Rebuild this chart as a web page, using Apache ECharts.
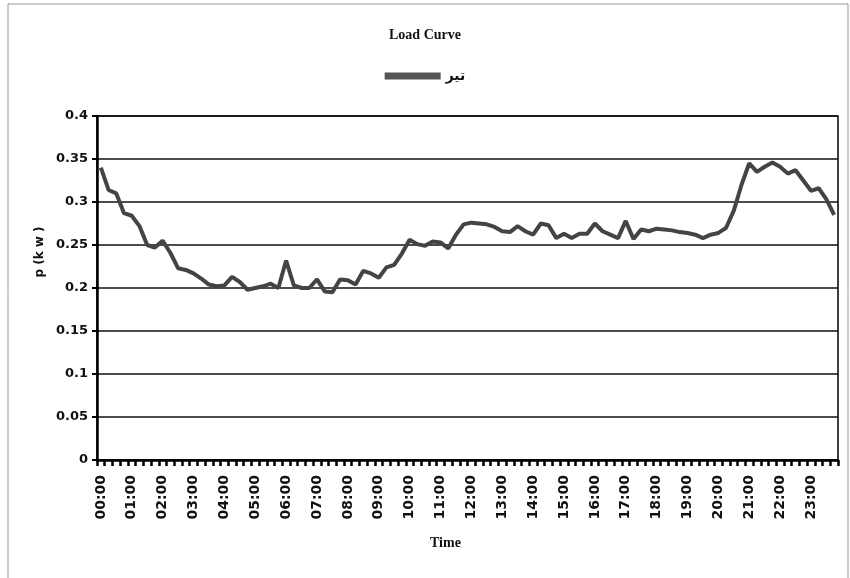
<!DOCTYPE html>
<html>
<head>
<meta charset="utf-8">
<script src="https://cdn.jsdelivr.net/npm/echarts@6/dist/echarts.min.js"></script>
<style>
html,body{margin:0;padding:0;background:#fff;}
#chart{width:850px;height:578px;}
</style>
</head>
<body>
<div id="chart"></div>
<script>
// 15-minute time categories
var categories = [];
for (var h = 0; h < 24; h++) {
  for (var m = 0; m < 60; m += 15) {
    categories.push((h < 10 ? '0' : '') + h + ':' + (m < 10 ? '0' : '') + m);
  }
}
var seriesName = 'تير';
var loadValues = [
  0.340, 0.314, 0.310, 0.287, 0.284, 0.272, 0.250, 0.247,
  0.255, 0.241, 0.223, 0.221, 0.217, 0.211, 0.204, 0.202,
  0.203, 0.213, 0.207, 0.198, 0.200, 0.202, 0.205, 0.200,
  0.232, 0.203, 0.200, 0.200, 0.210, 0.196, 0.195, 0.210,
  0.209, 0.204, 0.220, 0.217, 0.212, 0.224, 0.227, 0.240,
  0.256, 0.251, 0.249, 0.254, 0.253, 0.246, 0.262, 0.274,
  0.276, 0.275, 0.274, 0.271, 0.266, 0.265, 0.272, 0.266,
  0.262, 0.275, 0.273, 0.258, 0.263, 0.258, 0.263, 0.263,
  0.275, 0.266, 0.262, 0.258, 0.278, 0.257, 0.268, 0.266,
  0.269, 0.268, 0.267, 0.265, 0.264, 0.262, 0.258, 0.262,
  0.264, 0.270, 0.290, 0.320, 0.345, 0.335, 0.341, 0.346,
  0.341, 0.333, 0.337, 0.325, 0.313, 0.316, 0.303, 0.285
];
var yMin = 0, yMax = 0.4, yStep = 0.05;

var chart = echarts.init(document.getElementById('chart'), null, {renderer: 'canvas'});
var option = {
  backgroundColor: '#fff',
  animation: false,
  title: [{
    text: 'Load Curve',
    left: 'center',
    top: 23,
    textStyle: {fontFamily: 'Liberation Serif', fontWeight: 'bold', fontSize: 14, color: '#111'}
  }, {
    text: 'Time',
    left: 425,
    top: 531,
    textStyle: {fontFamily: 'Liberation Serif', fontWeight: 'bold', fontSize: 14, color: '#111'}
  }],
  legend: {
    top: 64,
    left: 'center',
    itemWidth: 56,
    itemHeight: 7,
    itemGap: 4,
    textStyle: {fontFamily: 'DejaVu Sans', fontWeight: 'bold', fontSize: 14, color: '#111'},
    data: [{name: seriesName, icon: 'rect', itemStyle: {color: '#555'}}]
  },
  graphic: [{
    type: 'rect',
    shape: {x: 8, y: 4, width: 840, height: 600},
    style: {fill: 'none', stroke: '#999', lineWidth: 1},
    silent: true
  }, {
    type: 'text',
    x: 40, y: 252,
    rotation: Math.PI / 2,
    style: {
      text: 'p (k w )',
      fontFamily: 'DejaVu Sans', fontWeight: 'bold', fontSize: 12,
      fill: '#111', align: 'center', verticalAlign: 'middle'
    }
  }],
  grid: {left: 97, right: 12, top: 116, bottom: 118, show: true, borderColor: '#000', borderWidth: 1.5, containLabel: false},
  xAxis: {
    type: 'category',
    data: categories,
    boundaryGap: true,
    axisLine: {lineStyle: {color: '#000', width: 2.5}},
    axisTick: {show: true, interval: 0, length: 6, lineStyle: {color: '#000', width: 2.5}},
    axisLabel: {
      interval: 3,
      rotate: 90,
      margin: 15,
      padding: [22, 0, 0, 0],
      fontFamily: 'DejaVu Sans', fontWeight: 'bold', fontSize: 14, color: '#111'
    },
    splitLine: {show: false}
  },
  yAxis: {
    type: 'value',
    min: yMin, max: yMax, interval: yStep,
    axisLine: {show: true, lineStyle: {color: '#000', width: 2.5}},
    axisTick: {show: true, length: 5, lineStyle: {color: '#000', width: 2}},
    axisLabel: {margin: 9, fontFamily: 'DejaVu Sans', fontWeight: 'bold', fontSize: 13, color: '#111'},
    splitLine: {show: true, lineStyle: {color: '#111', width: 1.5}}
  },
  series: [{
    name: seriesName,
    type: 'line',
    data: loadValues,
    symbol: 'none',
    smooth: false,
    lineStyle: {color: '#444', width: 4},
    itemStyle: {color: '#444'}
  }]
};
chart.setOption(option);
</script>
</body>
</html>
